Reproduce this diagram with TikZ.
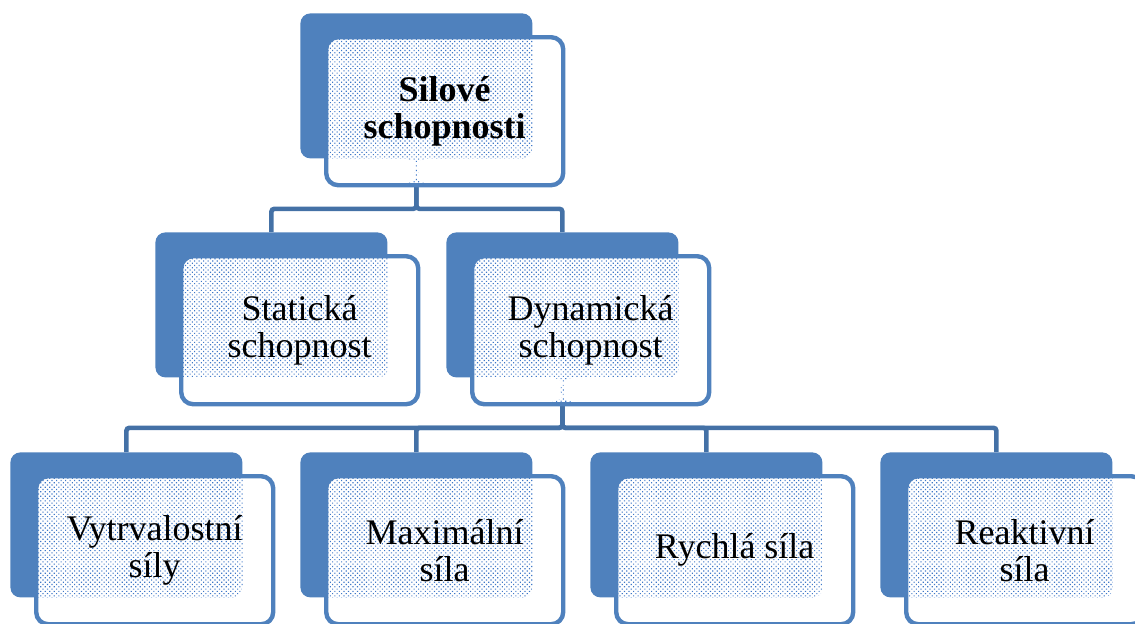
\documentclass[tikz,border=0pt]{standalone}
\usepackage{fontspec}
\setmainfont{Liberation Serif}
\usetikzlibrary{positioning,patterns.meta}
\definecolor{smartBlue}{HTML}{4F81BD}
\definecolor{smartLine}{HTML}{4471A6}
\definecolor{smartDot}{HTML}{3F78C8}

\begin{document}
\begin{tikzpicture}[x=0.5pt,y=-0.5pt,
  backbox/.style={fill=smartBlue,rounded corners=5pt,minimum width=116pt,minimum height=72.5pt,inner sep=0pt,anchor=north west},
  dotfill/.style={pattern={Dots[distance=1.6pt,radius=0.4pt,angle=45]},pattern color=smartDot},
  frontbox/.style={draw=smartBlue,line width=2.2pt,fill=white,rounded corners=6pt,minimum width=118.5pt,minimum height=74pt,inner sep=0pt,align=center,font=\fontsize{18}{18.5}\selectfont,below right=11pt and 12pt of #1.north west,
    path picture={\fill[dotfill] (#1.north west) [rounded corners=5pt] rectangle (#1.south east);}},
  parentbox/.style={frontbox=#1,
    path picture={\fill[dotfill] (#1.north west) [rounded corners=5pt] rectangle (#1.south east);
      \fill[dotfill] ([xshift=-1pt]#1.south) rectangle ([xshift=1pt,yshift=-12pt]#1.south);}},
  link/.style={draw=smartLine,line width=2.3pt,rounded corners=1.5pt}]
\useasboundingbox (0,0) rectangle (1135,623);
% back plates
\node[backbox] (sil) at (300,13) {};
\node[backbox] (stat) at (155,232) {};
\node[backbox] (dyn) at (446,232) {};
\foreach \x/\name in {10/vytr,300/maxi,590/rych,880/reak}
  \node[backbox] (\name) at (\x,452) {};
% connectors
\foreach \name in {stat,dyn}
  \draw[link] (sil.south) -- ++(0,50) -| (\name.north);
\foreach \name in {vytr,maxi,rych,reak}
  \draw[link] (dyn.south) -- ++(0,50) -| (\name.north);
% front boxes
\node[parentbox=sil,font=\fontsize{18}{18.5}\selectfont\bfseries] (silF) {Silové\\schopnosti};
\node[frontbox=stat] (statF) {Statická\\schopnost};
\node[parentbox=dyn] (dynF) {Dynamická\\schopnost};
\foreach \name/\txt in {vytr/{Vytrvalostní\\síly},maxi/{Maximální\\síla},rych/{Rychlá síla},reak/{Reaktivní\\síla}}
  \node[frontbox=\name] (\name F) {\txt};
\end{tikzpicture}
\end{document}
